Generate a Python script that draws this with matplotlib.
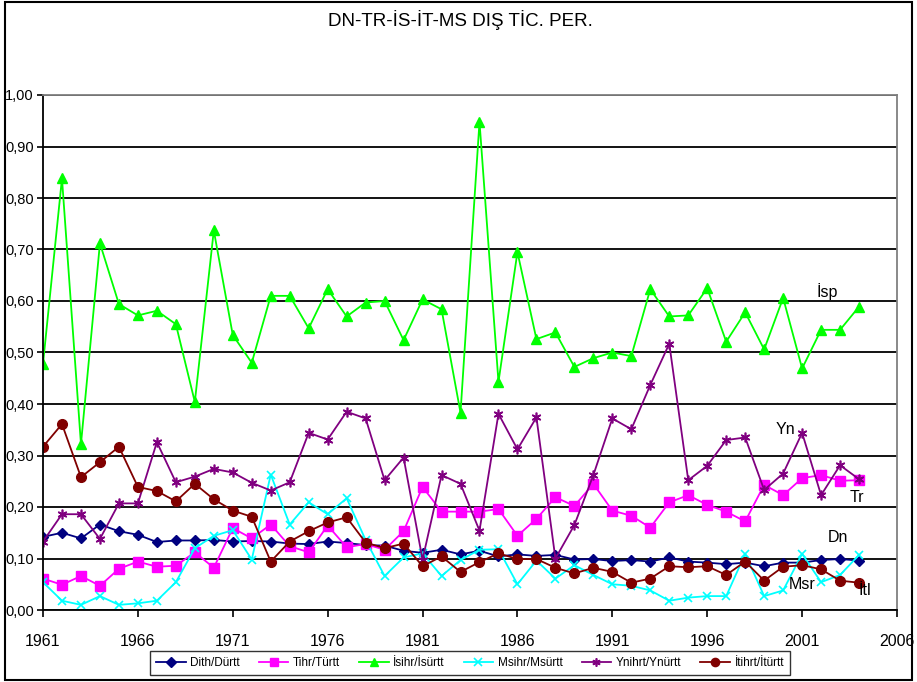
import matplotlib
matplotlib.use("Agg")
import matplotlib.pyplot as plt
from matplotlib.patches import Rectangle
from matplotlib.ticker import FuncFormatter, MultipleLocator

plt.rcParams['font.family'] = ['Liberation Sans', 'DejaVu Sans']

years = list(range(1961, 2005))
xticks = list(range(1961, 2007, 5))

dn = [0.142, 0.150, 0.139, 0.166, 0.153, 0.146, 0.132, 0.135, 0.135, 0.136,
      0.133, 0.134, 0.133, 0.129, 0.128, 0.133, 0.130, 0.126, 0.125, 0.115,
      0.111, 0.117, 0.108, 0.115, 0.104, 0.108, 0.105, 0.107, 0.098, 0.099,
      0.095, 0.097, 0.094, 0.102, 0.094, 0.092, 0.089, 0.092, 0.085, 0.092,
      0.092, 0.097, 0.099, 0.096]

tr = [0.061, 0.049, 0.066, 0.047, 0.080, 0.094, 0.084, 0.086, 0.112, 0.082,
      0.159, 0.139, 0.166, 0.124, 0.112, 0.164, 0.122, 0.128, 0.117, 0.153,
      0.239, 0.191, 0.191, 0.191, 0.196, 0.144, 0.177, 0.219, 0.202, 0.245,
      0.193, 0.183, 0.160, 0.209, 0.223, 0.204, 0.191, 0.172, 0.243, 0.223,
      0.256, 0.262, 0.251, 0.252]

isp = [0.478, 0.838, 0.322, 0.712, 0.594, 0.572, 0.581, 0.555, 0.404, 0.737,
       0.534, 0.480, 0.610, 0.610, 0.547, 0.623, 0.570, 0.597, 0.600, 0.524,
       0.603, 0.584, 0.383, 0.948, 0.443, 0.695, 0.526, 0.539, 0.472, 0.489,
       0.500, 0.493, 0.623, 0.570, 0.572, 0.625, 0.521, 0.578, 0.506, 0.606,
       0.469, 0.544, 0.544, 0.589]

msr = [0.054, 0.018, 0.010, 0.027, 0.010, 0.013, 0.018, 0.054, 0.120, 0.144,
       0.155, 0.098, 0.263, 0.166, 0.209, 0.186, 0.217, 0.136, 0.066, 0.102,
       0.110, 0.066, 0.097, 0.117, 0.118, 0.050, 0.096, 0.061, 0.087, 0.068,
       0.050, 0.047, 0.038, 0.018, 0.024, 0.027, 0.027, 0.109, 0.027, 0.038,
       0.109, 0.054, 0.068, 0.107]

yn = [0.133, 0.186, 0.186, 0.138, 0.207, 0.207, 0.326, 0.248, 0.259, 0.274,
      0.267, 0.247, 0.232, 0.248, 0.344, 0.331, 0.385, 0.372, 0.252, 0.296,
      0.098, 0.262, 0.245, 0.154, 0.381, 0.312, 0.374, 0.100, 0.165, 0.262,
      0.372, 0.351, 0.437, 0.517, 0.252, 0.280, 0.330, 0.335, 0.233, 0.265,
      0.344, 0.223, 0.281, 0.254]

itl = [0.317, 0.361, 0.258, 0.287, 0.317, 0.239, 0.231, 0.211, 0.245, 0.215,
       0.193, 0.181, 0.094, 0.133, 0.153, 0.170, 0.180, 0.131, 0.120, 0.129,
       0.085, 0.104, 0.074, 0.093, 0.110, 0.099, 0.099, 0.082, 0.071, 0.082,
       0.074, 0.053, 0.061, 0.085, 0.083, 0.085, 0.068, 0.094, 0.057, 0.084,
       0.087, 0.079, 0.057, 0.053]

legend_labels = ["Dith/Dürtt", "Tihr/Türtt", "İsihr/İsürtt",
                 "Msihr/Msürtt", "Ynihrt/Ynürtt", "İtihrt/İtürtt"]
end_labels = ["Dn", "Tr", "İsp", "Msr", "Yn", "İtl"]
label_pos = [(2002.9, 0.140), (2003.9, 0.218), (2002.3, 0.619),
             (2001.0, 0.050), (2000.1, 0.350), (2004.3, 0.037)]
title = "DN-TR-İS-İT-MS DIŞ TİC. PER."

fig = plt.figure(figsize=(9.17, 6.82), dpi=100)
ax = fig.add_axes([43/917, 72/682, (897-43)/917, (610-95)/682])

styles = [
    dict(color="#000080", marker="D", ms=5.5),
    dict(color="#FF00FF", marker="s", ms=6.5),
    dict(color="#00FF00", marker="^", ms=7.5),
    dict(color="#00FFFF", marker="x", ms=6, mew=1.2),
    dict(color="#800080", marker=(6, 2, 0), ms=7, mew=1.2),
    dict(color="#800000", marker="o", ms=7),
]
series = [dn, tr, isp, msr, yn, itl]
for s, st, lab in zip(series, styles, legend_labels):
    ax.plot(years, s, lw=1.3, label=lab, **st)

for txt, (xx, yy) in zip(end_labels, label_pos):
    ax.text(xx, yy, txt, fontsize=11.5, ha="center", va="center")

ax.set_xlim(1961, 2006)
ax.set_ylim(0, 1.0)
ax.set_xticks(xticks)
ax.set_xticklabels([str(t) for t in xticks])
ax.yaxis.set_major_locator(MultipleLocator(0.1))
ax.yaxis.set_major_formatter(FuncFormatter(lambda v, p: f"{v:.2f}".replace(".", ",")))
ax.grid(axis="y", color="black", lw=1.3)
ax.set_axisbelow(True)
for sp in ["top", "right"]:
    ax.spines[sp].set_color("#808080")
    ax.spines[sp].set_linewidth(1.3)
for sp in ["left", "bottom"]:
    ax.spines[sp].set_color("black")
    ax.spines[sp].set_linewidth(1.3)
ax.tick_params(axis="y", direction="out", length=4, width=1.2, labelsize=10.5, pad=2.5)
ax.tick_params(axis="x", direction="out", length=5, width=1.2, labelsize=11.5, pad=12)

fig.text(460/917, 1 - 20/682, title, ha="center", va="center", fontsize=13.5)

leg = ax.legend(loc="center", bbox_to_anchor=(470/917, 1 - 663/682),
                bbox_transform=fig.transFigure, ncol=6, fontsize=8.5,
                frameon=True, fancybox=False, edgecolor="black",
                handlelength=2.5, columnspacing=1.6, handletextpad=0.4,
                borderpad=0.55, markerscale=0.85)
leg.get_frame().set_linewidth(1.0)

fig.patches.append(Rectangle((5/917, 2/682), 907/917, 678/682,
                             transform=fig.transFigure, fill=False,
                             edgecolor="black", lw=1.5))

fig.savefig("out.png", dpi=100)
